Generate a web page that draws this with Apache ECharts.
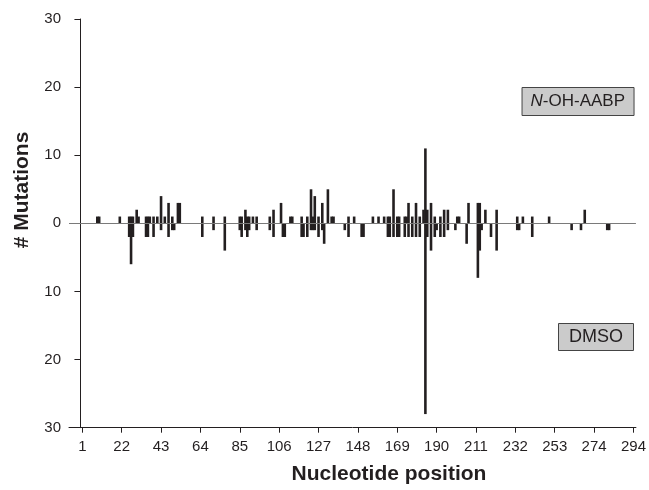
<!DOCTYPE html>
<html><head><meta charset="utf-8">
<script src="https://cdn.jsdelivr.net/npm/echarts@6/dist/echarts.min.js"></script>
<style>html,body{margin:0;padding:0;background:#fff}#c{width:649px;height:490px}</style>
</head><body><div id="c"></div>
<script>
// Nucleotide positions with mutations
const positions = [9,10,21,26,27,28,30,31,35,36,37,39,41,43,45,47,49,50,52,53,
  65,71,77,85,86,88,89,90,92,94,101,103,107,108,109,112,113,118,119,121,123,124,125,127,129,130,132,134,135,
  141,143,146,150,151,156,159,162,164,165,167,169,170,173,174,175,177,179,181,183,184,185,187,189,190,192,194,196,
  200,201,202,206,207,212,213,214,216,219,222,233,234,236,241,250,262,267,269,281,282];
// N-OH-AABP mutation counts (plotted upward)
const nohValues = [1,1,1,1,1,1,2,1,1,1,1,1,1,4,1,3,1,0,3,3,
  1,1,1,1,1,2,1,1,1,1,1,2,3,0,0,1,1,1,0,1,5,1,4,1,3,0,5,1,1,
  0,1,1,0,0,1,1,1,1,1,5,1,1,1,1,3,1,3,1,2,11,2,3,1,0,1,2,2,
  0,1,1,0,3,3,3,0,2,0,2,1,0,1,1,1,0,0,2,0,0];
// DMSO mutation counts (plotted downward)
const dmsoValues = [0,0,0,2,6,2,0,0,2,2,0,2,0,1,0,2,1,1,0,0,
  2,1,4,1,2,1,2,1,0,1,1,2,0,2,2,0,0,2,2,2,1,1,1,2,1,3,0,0,0,
  1,2,0,2,2,0,0,0,2,2,2,2,2,2,0,2,2,2,2,0,28,2,4,2,1,2,2,1,
  1,0,0,3,0,8,4,1,0,2,4,1,1,0,2,0,1,1,0,1,1];
const xTickValues = [1,22,43,64,85,106,127,148,169,190,211,232,253,274,295];
const xTickLabels = ['1','22','43','64','85','106','127','148','169','190','211','232','253','274','294'];

const nohData = positions.map((p,i)=>[p, nohValues[i]]).filter(d=>d[1]!==0);
const dmsoData = positions.map((p,i)=>[p, -dmsoValues[i]]).filter(d=>d[1]!==0);

const FONT = 'Liberation Sans, Arial, sans-serif';
const INK = '#231f20';
const chart = echarts.init(document.getElementById('c'), null, {renderer:'canvas'});
chart.setOption({
  animation:false,
  backgroundColor:'#fff',
  grid:{left:69, right:12.3, top:19, bottom:62.3},
  xAxis:{
    type:'value', min:-6.1, max:296.3,
    splitLine:{show:false},
    axisLine:{show:true, onZero:false, lineStyle:{color:INK, width:1}},
    axisTick:{show:true, length:5, customValues:xTickValues, lineStyle:{color:INK}},
    axisLabel:{customValues:xTickValues, margin:12, fontSize:15, fontFamily:FONT, color:INK,
      formatter:(v)=>{const i=xTickValues.indexOf(v); return i>=0?xTickLabels[i]:'';}}
  },
  yAxis:{
    type:'value', min:-30, max:30, interval:10,
    splitLine:{show:false},
    axisLine:{show:true, lineStyle:{color:INK, width:1}},
    axisTick:{show:true, length:6, lineStyle:{color:INK}},
    axisLabel:{margin:8, fontSize:15, fontFamily:FONT, color:INK,
      formatter:(v)=>String(Math.abs(v))}
  },
  series:[
    {name:'N-OH-AABP', type:'bar', stack:'m', data:nohData, barWidth:2.6,
     itemStyle:{color:INK},
     markLine:{silent:true, symbol:'none', label:{show:false},
       lineStyle:{color:'#7a7a7a', width:1, type:'solid'}, data:[{yAxis:0}]}},
    {name:'DMSO', type:'bar', stack:'m', data:dmsoData, barWidth:2.6,
     itemStyle:{color:INK}}
  ],
  title:[
    {text:'{i|N}-OH-AABP', right:15, top:87, backgroundColor:'#cbcbcb', borderColor:'#444', borderWidth:1,
     padding:[6,9,6,9],
     textStyle:{fontSize:17, fontWeight:'normal', fontFamily:FONT, color:INK,
       rich:{i:{fontStyle:'italic', fontSize:17, fontFamily:FONT, color:INK}}}},
    {text:'DMSO', right:15, top:323, backgroundColor:'#cbcbcb', borderColor:'#444', borderWidth:1,
     padding:[5,11,5,11],
     textStyle:{fontSize:18, fontWeight:'normal', fontFamily:FONT, color:INK}}
  ],
  graphic:[
    {type:'text', x:389, y:474, style:{text:'Nucleotide position', fontSize:21, fontWeight:'bold', fontFamily:FONT, fill:INK, align:'center', verticalAlign:'middle'}},
    {type:'text', x:22, y:190, rotation:Math.PI/2, style:{text:'# Mutations', fontSize:21, fontWeight:'bold', fontFamily:FONT, fill:INK, align:'center', verticalAlign:'middle'}}
  ]
});
</script></body></html>
